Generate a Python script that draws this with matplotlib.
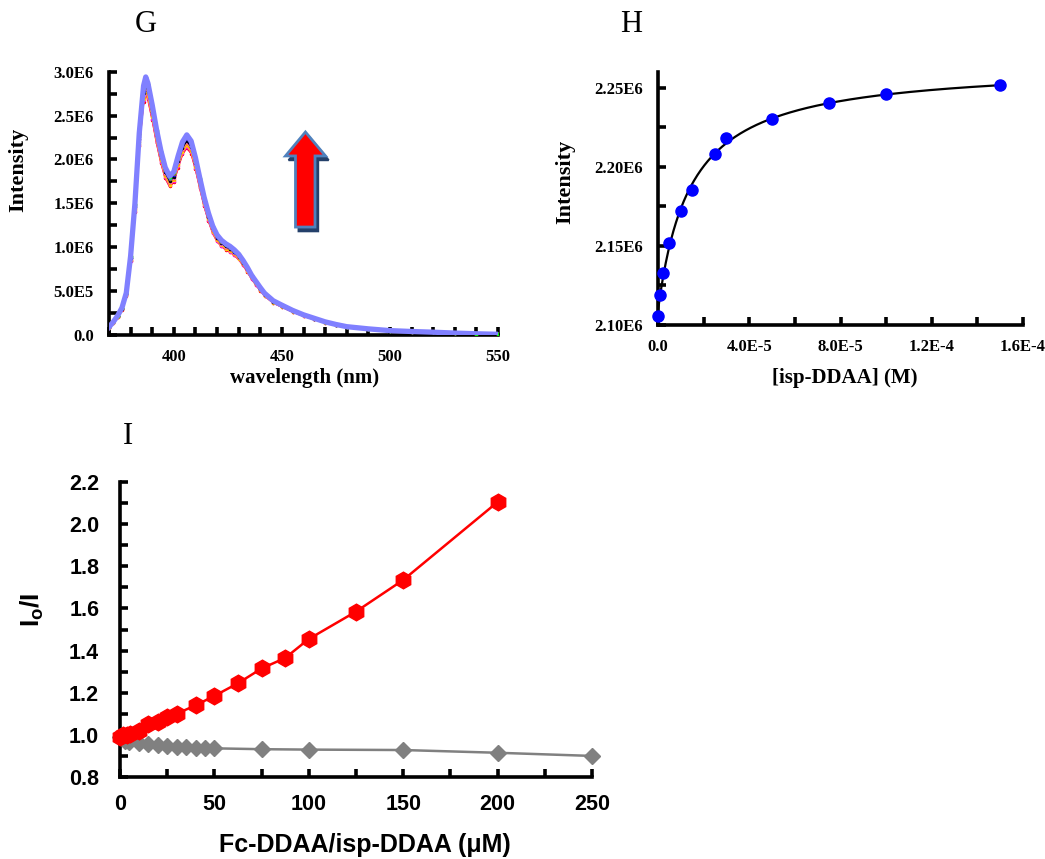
import numpy as np
import matplotlib
matplotlib.use("Agg")
import matplotlib.pyplot as plt
from matplotlib.patches import Polygon
from matplotlib.ticker import MultipleLocator, FixedLocator, FixedFormatter

# ---------------- G: fluorescence emission spectra ----------------
wavelength = [370, 372, 374, 376, 378, 380, 382, 384, 386, 387,
              388, 390, 392, 394, 396, 398, 400, 402, 404, 406,
              408, 410, 412, 414, 416, 418, 420, 422, 424, 426,
              428, 430, 432, 434, 436, 438, 440, 442, 446, 450,
              455, 460, 465, 470, 475, 480, 490, 500, 510, 520,
              530, 540, 550]
# highest spectrum of the titration, in units of 1e6
top_spectrum = [0.09, 0.15, 0.22, 0.31, 0.48, 0.90, 1.50, 2.30, 2.84, 2.94,
                2.87, 2.62, 2.34, 2.10, 1.91, 1.81, 1.86, 2.04, 2.20, 2.28,
                2.21, 2.02, 1.79, 1.57, 1.39, 1.24, 1.14, 1.08, 1.04, 1.01,
                0.97, 0.92, 0.85, 0.77, 0.68, 0.61, 0.54, 0.475, 0.39, 0.34,
                0.28, 0.23, 0.19, 0.15, 0.12, 0.095, 0.07, 0.05, 0.04, 0.032,
                0.022, 0.014, 0.008]
spectrum_colors = ['#FF0000', '#FF00FF', '#FFD700', '#FF9900', '#FF66CC',
                   '#000000', '#0000FF', '#996633', '#00CCCC', '#808000',
                   '#00FF00', '#8080FF']
g_yticks = [0, 0.5e6, 1.0e6, 1.5e6, 2.0e6, 2.5e6, 3.0e6]
g_yticklabels = ['0.0', '5.0E5', '1.0E6', '1.5E6', '2.0E6', '2.5E6', '3.0E6']
g_xticks = [400, 450, 500, 550]

# ---------------- H: binding isotherm ----------------
isp_conc = [0.0, 0.1e-5, 0.2e-5, 0.5e-5, 1.0e-5, 1.5e-5, 2.5e-5, 3.0e-5,
            5.0e-5, 7.5e-5, 10.0e-5, 15.0e-5]
isp_intensity = [2.106e6, 2.119e6, 2.133e6, 2.152e6, 2.172e6, 2.185e6,
                 2.208e6, 2.218e6, 2.230e6, 2.240e6, 2.246e6, 2.2515e6]
h_yticks = [2.10e6, 2.15e6, 2.20e6, 2.25e6]
h_yticklabels = ['2.10E6', '2.15E6', '2.20E6', '2.25E6']
h_xticks = [0, 4.0e-5, 8.0e-5, 1.2e-4, 1.6e-4]
h_xticklabels = ['0.0', '4.0E-5', '8.0E-5', '1.2E-4', '1.6E-4']

# ---------------- I: Stern-Volmer plot ----------------
fc_conc = [0, 1.5, 3.5, 5.5, 10, 15, 20, 25, 30, 40, 50, 62.5, 75, 87.5,
           100, 125, 150, 200]
fc_ratio = [0.99, 1.0, 1.0, 1.005, 1.02, 1.05, 1.06, 1.085, 1.10, 1.14,
            1.185, 1.245, 1.315, 1.365, 1.455, 1.585, 1.735, 2.105]
isp_conc_uM = [0, 2.5, 5, 10, 15, 20, 25, 30, 35, 40, 45, 50, 75, 100,
               150, 200, 250]
isp_ratio = [0.99, 0.97, 0.965, 0.96, 0.955, 0.95, 0.947, 0.944, 0.942,
             0.94, 0.938, 0.936, 0.932, 0.93, 0.928, 0.915, 0.90]
i_yticks = [0.8, 1.0, 1.2, 1.4, 1.6, 1.8, 2.0, 2.2]
i_yticklabels = ['0.8', '1.0', '1.2', '1.4', '1.6', '1.8', '2.0', '2.2']
i_xticks = [0, 50, 100, 150, 200, 250]

SERIF = 'Liberation Serif'
SANS = 'Liberation Sans'
plt.rcParams['mathtext.fontset'] = 'custom'
plt.rcParams['mathtext.bf'] = 'Liberation Sans:bold'
plt.rcParams['mathtext.rm'] = 'Liberation Sans'

W, H = 1045, 859
fig = plt.figure(figsize=(W / 100, H / 100), dpi=100)


def px_axes(left, top, right, bottom):
    return fig.add_axes([left / W, 1 - bottom / H, (right - left) / W,
                         (bottom - top) / H])


def style_axes(ax, family, size):
    for s in ('top', 'right'):
        ax.spines[s].set_visible(False)
    for s in ('left', 'bottom'):
        ax.spines[s].set_linewidth(2.6)
    ax.tick_params(which='both', direction='in', length=6, width=2.6,
                   labelsize=size)
    for lab in ax.get_xticklabels() + ax.get_yticklabels():
        lab.set_fontfamily(family)
        lab.set_fontweight('bold')


def place_labels(ax, xpos, ypos):
    ax.xaxis.set_label_coords(*xpos)
    ax.yaxis.set_label_coords(*ypos)
    ax.xaxis.label.set_va('center')
    ax.yaxis.label.set_va('center')
    ax.yaxis.label.set_ha('center')


# ---- panel G ----
axG = px_axes(109, 71.7, 498, 335)
scale = np.array(isp_intensity) / isp_intensity[-1]
wl = np.array(wavelength)
top = np.array(top_spectrum) * 1e6
for k, f in enumerate(scale[:-1]):
    axG.plot(wl, top * f, color=spectrum_colors[k], lw=1.2, marker='.',
             ms=3, zorder=2 + k)
axG.plot(wl, top, color=spectrum_colors[-1], lw=3.8, zorder=20,
         solid_joinstyle='round')
axG.set_xlim(370, 550)
axG.set_ylim(0, 3.0e6)
axG.xaxis.set_major_locator(FixedLocator(g_xticks))
axG.xaxis.set_minor_locator(MultipleLocator(10))
axG.yaxis.set_major_locator(FixedLocator(g_yticks))
axG.yaxis.set_major_formatter(FixedFormatter(g_yticklabels))
axG.yaxis.set_minor_locator(MultipleLocator(0.25e6))
style_axes(axG, SERIF, 12)
axG.tick_params(axis='x', pad=10)
axG.tick_params(axis='y', pad=11)
axG.set_xlabel('wavelength (nm)', fontfamily=SERIF, fontweight='bold',
               fontsize=15)
axG.set_ylabel('Intensity', fontfamily=SERIF, fontweight='bold',
               fontsize=16)
place_labels(axG, (0.504, -0.163), (-0.234, 0.627))

# increasing-intensity arrow
arrow_shape = [(0.505, 0.771), (0.5566, 0.680), (0.5296, 0.680),
               (0.5296, 0.410), (0.4794, 0.410), (0.4794, 0.680),
               (0.4537, 0.680)]
shadow = [(x + 0.008, y - 0.016) for x, y in arrow_shape]
axG.add_patch(Polygon(shadow, closed=True, transform=axG.transAxes,
                      facecolor='#24406A', edgecolor='#24406A', lw=1.5,
                      zorder=30))
axG.add_patch(Polygon(arrow_shape, closed=True, transform=axG.transAxes,
                      facecolor='#FF0000', edgecolor='#4F81BD', lw=2.0,
                      joinstyle='miter', zorder=31))

# ---- panel H ----
axH = px_axes(658, 71.7, 1023, 325)
xc = np.array(isp_conc)
yc = np.array(isp_intensity)
# one-site binding fit: I = I0 + dI * x / (Kd + x)
best = None
for kd in np.linspace(0.2e-5, 5e-5, 2000):
    g = xc / (kd + xc)
    A = np.vstack([np.ones_like(g), g]).T
    coef, *_ = np.linalg.lstsq(A, yc, rcond=None)
    err = np.sum((A @ coef - yc) ** 2)
    if best is None or err < best[0]:
        best = (err, kd, coef)
_, kd_fit, (i0_fit, di_fit) = best
xfit = np.linspace(0, max(isp_conc), 400)
axH.plot(xfit, i0_fit + di_fit * xfit / (kd_fit + xfit), color='black',
         lw=1.6, zorder=2)
axH.plot(isp_conc, isp_intensity, 'o', color='#0000FF', ms=8, zorder=3,
         clip_on=False)
axH.set_xlim(0, 1.6e-4)
axH.set_ylim(2.10e6, 2.26e6)
axH.xaxis.set_major_locator(FixedLocator(h_xticks))
axH.xaxis.set_major_formatter(FixedFormatter(h_xticklabels))
axH.xaxis.set_minor_locator(MultipleLocator(2e-5))
axH.yaxis.set_major_locator(FixedLocator(h_yticks))
axH.yaxis.set_major_formatter(FixedFormatter(h_yticklabels))
axH.yaxis.set_minor_locator(MultipleLocator(0.025e6))
style_axes(axH, SERIF, 12)
axH.tick_params(axis='x', pad=10)
axH.tick_params(axis='y', pad=11)
axH.set_xlabel('[isp-DDAA] (M)', fontfamily=SERIF, fontweight='bold',
               fontsize=15)
axH.set_ylabel('Intensity', fontfamily=SERIF, fontweight='bold',
               fontsize=16)
place_labels(axH, (0.512, -0.209), (-0.255, 0.565))

# ---- panel I ----
axI = px_axes(120, 482, 592, 777)
axI.plot(isp_conc_uM, isp_ratio, '-', color='#808080', lw=1.8,
         marker='D', ms=8.5, zorder=3, clip_on=False)
axI.plot(fc_conc, fc_ratio, '-', color='#FF0000', lw=1.8,
         marker='h', ms=12, zorder=4, clip_on=False)
axI.set_xlim(0, 250)
axI.set_ylim(0.8, 2.2)
axI.xaxis.set_major_locator(FixedLocator(i_xticks))
axI.xaxis.set_minor_locator(MultipleLocator(25))
axI.yaxis.set_major_locator(FixedLocator(i_yticks))
axI.yaxis.set_major_formatter(FixedFormatter(i_yticklabels))
axI.yaxis.set_minor_locator(MultipleLocator(0.1))
style_axes(axI, SANS, 15.5)
axI.tick_params(axis='x', pad=12)
axI.tick_params(axis='y', pad=15)
axI.set_xlabel('Fc-DDAA/isp-DDAA (\u03bcM)', fontfamily=SANS,
               fontweight='bold', fontsize=18)
axI.set_ylabel(r'$\mathbf{I_{o}/I}$', fontsize=19)
place_labels(axI, (0.519, -0.23), (-0.186, 0.566))

# panel letters
for letter, (px, py) in zip(['G', 'H', 'I'],
                            [(146, 24), (631, 24), (128, 437)]):
    fig.text(px / W, 1 - py / H, letter, fontfamily=SERIF, fontsize=22,
             ha='center', va='center')

fig.savefig('out.png', dpi=100, facecolor='white')
